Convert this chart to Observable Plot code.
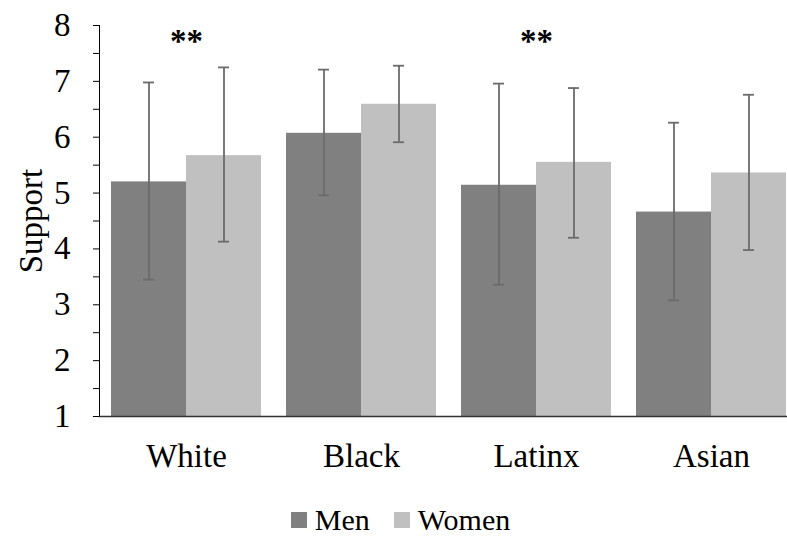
<!DOCTYPE html>
<html>
<head>
<meta charset="utf-8">
<script src="https://cdn.jsdelivr.net/npm/d3@7"></script>
<script src="https://cdn.jsdelivr.net/npm/@observablehq/plot@0.6"></script>
<style>
  html, body { margin: 0; padding: 0; background: white; }
  #chart { width: 787px; }
  .legend { display: flex; justify-content: center; align-items: center; height: 50px; padding-left: 14px; padding-top: 10px; box-sizing: border-box;
    font-family: 'Liberation Serif', 'Times New Roman', serif; font-size: 30px; color: #000; }
  .item { display: flex; align-items: center; margin: 0 12px; }
  .sw { width: 16px; height: 16px; margin-right: 8px; }
</style>
</head>
<body>
<div id="chart"></div>
<script>
const groups = ["White", "Black", "Latinx", "Asian"];
const sexes = ["Men", "Women"];
const menMean = [5.2, 6.07, 5.14, 4.66];
const womenMean = [5.67, 6.59, 5.55, 5.36];
const menLow = [3.45, 4.96, 3.36, 3.08];
const menHigh = [6.98, 7.21, 6.96, 6.26];
const womenLow = [4.13, 5.91, 4.20, 3.98];
const womenHigh = [7.25, 7.28, 6.88, 6.76];
const sigGroups = ["White", "Latinx"];
const yTicks = [1, 1.5, 2, 2.5, 3, 3.5, 4, 4.5, 5, 5.5, 6, 6.5, 7, 7.5, 8];
const colors = {Men: "#808080", Women: "#c0c0c0"};

const men = groups.map((g, i) => ({group: g, sex: "Men", mean: menMean[i], lo: menLow[i], hi: menHigh[i]}));
const women = groups.map((g, i) => ({group: g, sex: "Women", mean: womenMean[i], lo: womenLow[i], hi: womenHigh[i]}));
const sig = sigGroups.map(g => ({group: g, label: "**"}));

const errStroke = "#6b6b6b";
const errW = 1.8;

const chart = Plot.plot({
  width: 787,
  height: 490,
  marginTop: 25,
  marginBottom: 74,
  marginLeft: 99,
  marginRight: 0,
  style: {fontFamily: "'Liberation Serif', 'Times New Roman', serif", fontSize: "33px", color: "#000", background: "white"},
  x: {domain: groups, range: [98.5, 798.5], paddingInner: 0.1429, paddingOuter: 0.0714, tickSize: 0, tickPadding: 27, label: null},
  y: {domain: [1, 8], ticks: yTicks, tickFormat: d => Number.isInteger(d) ? String(d) : "", tickSize: 6, tickPadding: 23, line: true,
      label: "Support", labelAnchor: "center", labelOffset: 81, labelArrow: "none"},
  marks: [
    Plot.barY(men, {x: "group", y1: 1, y2: "mean", fill: colors.Men, insetRight: 75, insetLeft: 0}),
    Plot.barY(women, {x: "group", y1: 1, y2: "mean", fill: colors.Women, insetLeft: 75, insetRight: 0}),
    Plot.ruleX(men, {x: "group", y1: "lo", y2: "hi", dx: -37.5, stroke: errStroke, strokeWidth: errW}),
    Plot.ruleX(women, {x: "group", y1: "lo", y2: "hi", dx: 37.5, stroke: errStroke, strokeWidth: errW}),
    Plot.tickY(men, {x: "group", y: "lo", insetLeft: 32, insetRight: 107, stroke: errStroke, strokeWidth: errW}),
    Plot.tickY(men, {x: "group", y: "hi", insetLeft: 32, insetRight: 107, stroke: errStroke, strokeWidth: errW}),
    Plot.tickY(women, {x: "group", y: "lo", insetLeft: 107, insetRight: 32, stroke: errStroke, strokeWidth: errW}),
    Plot.tickY(women, {x: "group", y: "hi", insetLeft: 107, insetRight: 32, stroke: errStroke, strokeWidth: errW}),
    Plot.ruleY([1], {stroke: "#333", strokeWidth: 1.5}),
    Plot.text(sig, {x: "group", y: 7.72, text: "label", fontSize: 33, fontWeight: "bold", fill: "#000"})
  ]
});
document.getElementById("chart").appendChild(chart);

const legend = document.createElement("div");
legend.className = "legend";
sexes.forEach(s => {
  const it = document.createElement("div");
  it.className = "item";
  const sw = document.createElement("div");
  sw.className = "sw";
  sw.style.background = colors[s];
  const t = document.createElement("span");
  t.textContent = s;
  it.appendChild(sw);
  it.appendChild(t);
  legend.appendChild(it);
});
document.getElementById("chart").appendChild(legend);
</script>
</body>
</html>
